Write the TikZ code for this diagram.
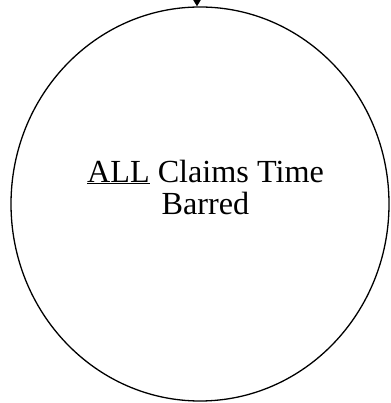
\documentclass[tikz,border=0pt]{standalone}
\usepackage{fontspec}
\setmainfont{Liberation Serif}
\usetikzlibrary{shapes.geometric,arrows.meta}
\begin{document}
\begin{tikzpicture}[x=1pt,y=1pt,
  state/.style={ellipse,draw,line width=1.3pt,minimum width=378pt,minimum height=394pt,inner sep=0pt},
  statetext/.style={font=\fontsize{32.2}{32}\selectfont,align=center,inner sep=0pt},
  flow/.style={line width=1.3pt,-{Triangle[width=8pt,length=7pt]}}]
\useasboundingbox (0,0) rectangle (390,403);
\node[state] (c) at (200,199) {};
\node[statetext] (t) at (205.5,216) {\underline{ALL} Claims Time\\Barred};
\coordinate (in) at (197,405);
\draw[flow] (in) -- (c.north -| in);
\end{tikzpicture}
\end{document}
